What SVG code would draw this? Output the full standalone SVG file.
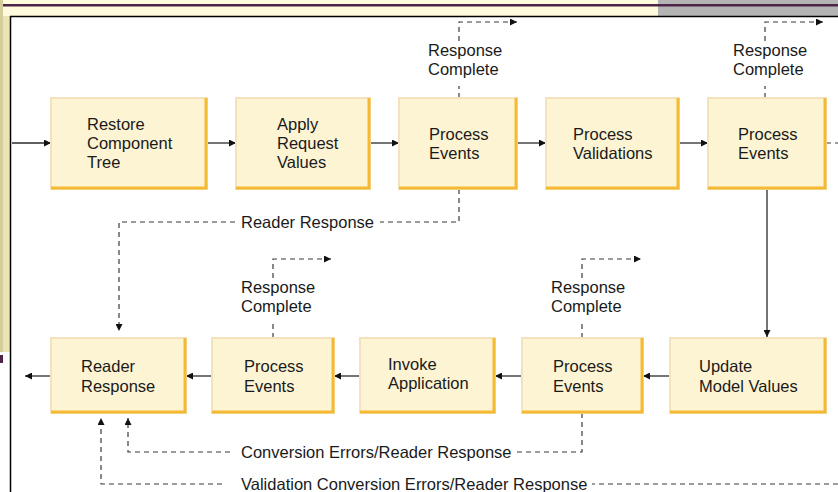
<svg xmlns="http://www.w3.org/2000/svg" width="838" height="492" viewBox="0 0 838 492">
<defs>
<style>
.t{font-family:"Liberation Sans",Arial,Helvetica,sans-serif;font-size:16.5px;fill:#1a1a1a}
.box{fill:#fdf4d4;stroke:#f3e2bc;stroke-width:2}
.edge{fill:none;stroke:#f6b934;stroke-width:3}
.s{fill:none;stroke:#2a2a2a;stroke-width:1.3}
.d{fill:none;stroke:#3a3a3a;stroke-width:1.2;stroke-dasharray:5 4}
</style>
<marker id="ah" viewBox="0 0 10 10" refX="10" refY="5" markerWidth="8" markerHeight="7" markerUnits="userSpaceOnUse" orient="auto">
<path d="M0,0 L10,5 L0,10 z" fill="#111"/>
</marker>
</defs>
<!-- window frame -->
<rect x="0" y="0" width="838" height="492" fill="#ffffff"/>
<rect x="0" y="0" width="838" height="16" fill="#fffbdc"/>
<rect x="658" y="0" width="180" height="16" fill="#b4b4b4"/>
<rect x="0" y="4" width="838" height="2.5" fill="#4d2549"/>
<rect x="0" y="16" width="10" height="336" fill="#ece4b4"/>
<rect x="0" y="0" width="3" height="352" fill="#d5cd9b"/>
<rect x="0" y="355" width="3" height="8" fill="#4d2549"/>
<line x1="10" y1="16.5" x2="838" y2="16.5" stroke="#000" stroke-width="1.5"/>
<line x1="10.5" y1="16" x2="10.5" y2="492" stroke="#000" stroke-width="1.5"/>

<g id="connectors">
<path class="s" d="M12,143 H51" marker-end="url(#ah)"/>
<path class="s" d="M207,143 H236" marker-end="url(#ah)"/>
<path class="s" d="M370,143 H399" marker-end="url(#ah)"/>
<path class="s" d="M517,143 H546" marker-end="url(#ah)"/>
<path class="s" d="M679,143 H708" marker-end="url(#ah)"/>
<path class="s" d="M767,189 V337" marker-end="url(#ah)"/>
<path class="s" d="M670,376 H643" marker-end="url(#ah)"/>
<path class="s" d="M522,376 H495" marker-end="url(#ah)"/>
<path class="s" d="M360,376 H334" marker-end="url(#ah)"/>
<path class="s" d="M212,376 H186" marker-end="url(#ah)"/>
<path class="s" d="M51,376 H25" marker-end="url(#ah)"/>

<path class="d" d="M459,98 V86"/>
<path class="d" d="M459,41 V22 H517" marker-end="url(#ah)"/>
<path class="d" d="M765,98 V86"/>
<path class="d" d="M765,41 V22 H823" marker-end="url(#ah)"/>
<path class="d" d="M826,143 H838"/>

<path class="d" d="M459,189 V222 H380"/>
<path class="d" d="M235,222 H119 V331" marker-end="url(#ah)"/>

<path class="d" d="M273,338 V320"/>
<path class="d" d="M273,278 V259 H331" marker-end="url(#ah)"/>
<path class="d" d="M582,338 V320"/>
<path class="d" d="M582,278 V259 H641" marker-end="url(#ah)"/>

<path class="d" d="M582,413 V452 H514"/>
<path class="d" d="M230,452 H128 V418" marker-end="url(#ah)"/>
<path class="d" d="M838,484 H592"/>
<path class="d" d="M222,484 H101 V418" marker-end="url(#ah)"/>

<text class="t" x="428" y="56">Response</text>
<text class="t" x="428" y="75">Complete</text>
<text class="t" x="733" y="56">Response</text>
<text class="t" x="733" y="75">Complete</text>
<text class="t" x="241" y="228">Reader Response</text>
<text class="t" x="241" y="293">Response</text>
<text class="t" x="241" y="312">Complete</text>
<text class="t" x="551" y="293">Response</text>
<text class="t" x="551" y="312">Complete</text>
<text class="t" x="241" y="458">Conversion Errors/Reader Response</text>
<text class="t" x="241" y="490">Validation Conversion Errors/Reader Response</text>
</g>

<g id="restore">
<rect class="box" x="51" y="98" width="156" height="91"/>
<path class="edge" d="M206,98 V188 H51"/>
<text class="t" x="87" y="130">Restore</text>
<text class="t" x="87" y="149">Component</text>
<text class="t" x="87" y="168">Tree</text>
</g>
<g id="apply">
<rect class="box" x="236" y="98" width="134" height="91"/>
<path class="edge" d="M369,98 V188 H236"/>
<text class="t" x="277" y="130">Apply</text>
<text class="t" x="277" y="149">Request</text>
<text class="t" x="277" y="168">Values</text>
</g>
<g id="events1">
<rect class="box" x="399" y="98" width="118" height="91"/>
<path class="edge" d="M516,98 V188 H399"/>
<text class="t" x="429" y="140">Process</text>
<text class="t" x="429" y="159">Events</text>
</g>
<g id="validations">
<rect class="box" x="546" y="98" width="133" height="91"/>
<path class="edge" d="M678,98 V188 H546"/>
<text class="t" x="573" y="140">Process</text>
<text class="t" x="573" y="159">Validations</text>
</g>
<g id="events2">
<rect class="box" x="708" y="98" width="118" height="91"/>
<path class="edge" d="M825,98 V188 H708"/>
<text class="t" x="738" y="140">Process</text>
<text class="t" x="738" y="159">Events</text>
</g>
<g id="update">
<rect class="box" x="670" y="338" width="156" height="75"/>
<path class="edge" d="M825,338 V412 H670"/>
<text class="t" x="699" y="372">Update</text>
<text class="t" x="699" y="392">Model Values</text>
</g>
<g id="events3">
<rect class="box" x="522" y="338" width="121" height="75"/>
<path class="edge" d="M642,338 V412 H522"/>
<text class="t" x="553" y="372">Process</text>
<text class="t" x="553" y="392">Events</text>
</g>
<g id="invoke">
<rect class="box" x="360" y="338" width="135" height="75"/>
<path class="edge" d="M494,338 V412 H360"/>
<text class="t" x="388" y="370">Invoke</text>
<text class="t" x="388" y="389">Application</text>
</g>
<g id="events4">
<rect class="box" x="212" y="338" width="122" height="75"/>
<path class="edge" d="M333,338 V412 H212"/>
<text class="t" x="244" y="372">Process</text>
<text class="t" x="244" y="392">Events</text>
</g>
<g id="reader">
<rect class="box" x="51" y="338" width="135" height="75"/>
<path class="edge" d="M185,338 V412 H51"/>
<text class="t" x="81" y="372">Reader</text>
<text class="t" x="81" y="392">Response</text>
</g>
</svg>
